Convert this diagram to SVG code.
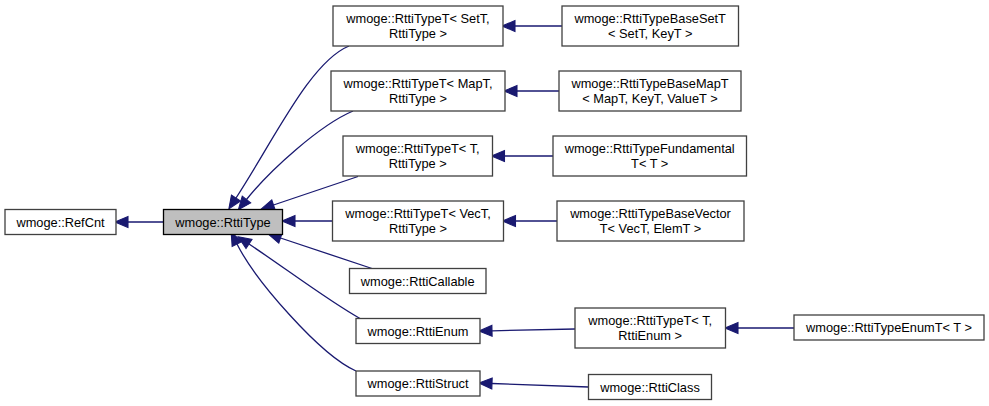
<svg xmlns="http://www.w3.org/2000/svg" width="989" height="406" viewBox="0 0 989 406">
<style>
.n rect{fill:#ffffff;stroke:#404040;stroke-width:1.3}
.n.hl rect{fill:#bfbfbf;stroke:#000000}
.n text{font-family:"Liberation Sans",Arial,Helvetica,sans-serif;font-size:12.8px;fill:#000000;text-anchor:middle}
.e path{fill:none;stroke:#191970;stroke-width:1.3;marker-end:url(#ah)}
</style>
<defs>
<marker id="ah" markerUnits="userSpaceOnUse" markerWidth="13" markerHeight="11" viewBox="0 0 12 10" refX="0" refY="5" orient="auto" overflow="visible">
<path d="M0,0 L12,5 L0,10 Z" fill="#191970" stroke="#191970" stroke-width="1"/>
</marker>
</defs>
<rect width="989" height="406" fill="#ffffff"/>
<g id="edges" class="e">
<path d="M163.5,222 L128,222"/>
<path d="M562,26 L515,26"/>
<path d="M559,91 L517,91"/>
<path d="M553,156 L504.5,156"/>
<path d="M557,221 L515.5,221"/>
<path d="M332.5,221 L295,221"/>
<path d="M575,329 L492,330.8"/>
<path d="M794,328 L738,328"/>
<path d="M588.5,387 L492,383.5"/>
<path d="M372,268.5 L280.5,238"/>
<path d="M358,176.5 L273.5,205"/>
<path d="M349,46 C310,62 274,140 236,198"/>
<path d="M353,111 C320,125 270,170 246.5,199.5"/>
<path d="M360,318.5 C330,302 285,268 249,244"/>
<path d="M356,371 C320,355 255,280 237,244"/>
</g>
<g id="RefCnt" class="n"><rect x="5" y="209.5" width="111" height="25"/><text x="60.5" y="226.5">wmoge::RefCnt</text></g>
<g id="RttiType" class="n hl"><rect x="163.5" y="209.5" width="119" height="25"/><text x="223" y="226.5">wmoge::RttiType</text></g>
<g id="RttiTypeT_SetT" class="n"><rect x="333" y="6" width="170" height="40"/><text x="418" y="23">wmoge::RttiTypeT&lt; SetT,</text><text x="418" y="38">RttiType &gt;</text></g>
<g id="RttiTypeBaseSetT" class="n"><rect x="562" y="6" width="176.5" height="40"/><text x="650.2" y="23">wmoge::RttiTypeBaseSetT</text><text x="650.2" y="38">&lt; SetT, KeyT &gt;</text></g>
<g id="RttiTypeT_MapT" class="n"><rect x="331" y="71" width="174" height="40"/><text x="418" y="88">wmoge::RttiTypeT&lt; MapT,</text><text x="418" y="103">RttiType &gt;</text></g>
<g id="RttiTypeBaseMapT" class="n"><rect x="559" y="71" width="182" height="40"/><text x="650" y="88">wmoge::RttiTypeBaseMapT</text><text x="650" y="103">&lt; MapT, KeyT, ValueT &gt;</text></g>
<g id="RttiTypeT_T" class="n"><rect x="343" y="136" width="149.5" height="40"/><text x="417.7" y="153">wmoge::RttiTypeT&lt; T,</text><text x="417.7" y="168">RttiType &gt;</text></g>
<g id="RttiTypeFundamental" class="n"><rect x="553" y="136" width="193.5" height="40"/><text x="649.7" y="153">wmoge::RttiTypeFundamental</text><text x="649.7" y="168">T&lt; T &gt;</text></g>
<g id="RttiTypeT_VecT" class="n"><rect x="332.5" y="201" width="171" height="40"/><text x="418" y="218">wmoge::RttiTypeT&lt; VecT,</text><text x="418" y="233">RttiType &gt;</text></g>
<g id="RttiTypeBaseVector" class="n"><rect x="557" y="201" width="187" height="40"/><text x="650.5" y="218">wmoge::RttiTypeBaseVector</text><text x="650.5" y="233">T&lt; VecT, ElemT &gt;</text></g>
<g id="RttiCallable" class="n"><rect x="349.5" y="268.5" width="136.5" height="25"/><text x="417.7" y="285.5">wmoge::RttiCallable</text></g>
<g id="RttiEnum" class="n"><rect x="356" y="318.5" width="124" height="25"/><text x="418" y="335.5">wmoge::RttiEnum</text></g>
<g id="RttiStruct" class="n"><rect x="356" y="371" width="124" height="25"/><text x="418" y="388">wmoge::RttiStruct</text></g>
<g id="RttiTypeT_T_RttiEnum" class="n"><rect x="575" y="308" width="150.5" height="40"/><text x="650.2" y="325">wmoge::RttiTypeT&lt; T,</text><text x="650.2" y="340">RttiEnum &gt;</text></g>
<g id="RttiClass" class="n"><rect x="588.5" y="374.5" width="123" height="25"/><text x="650" y="391.5">wmoge::RttiClass</text></g>
<g id="RttiTypeEnumT" class="n"><rect x="794" y="315" width="190" height="25"/><text x="889" y="332">wmoge::RttiTypeEnumT&lt; T &gt;</text></g>
</svg>
